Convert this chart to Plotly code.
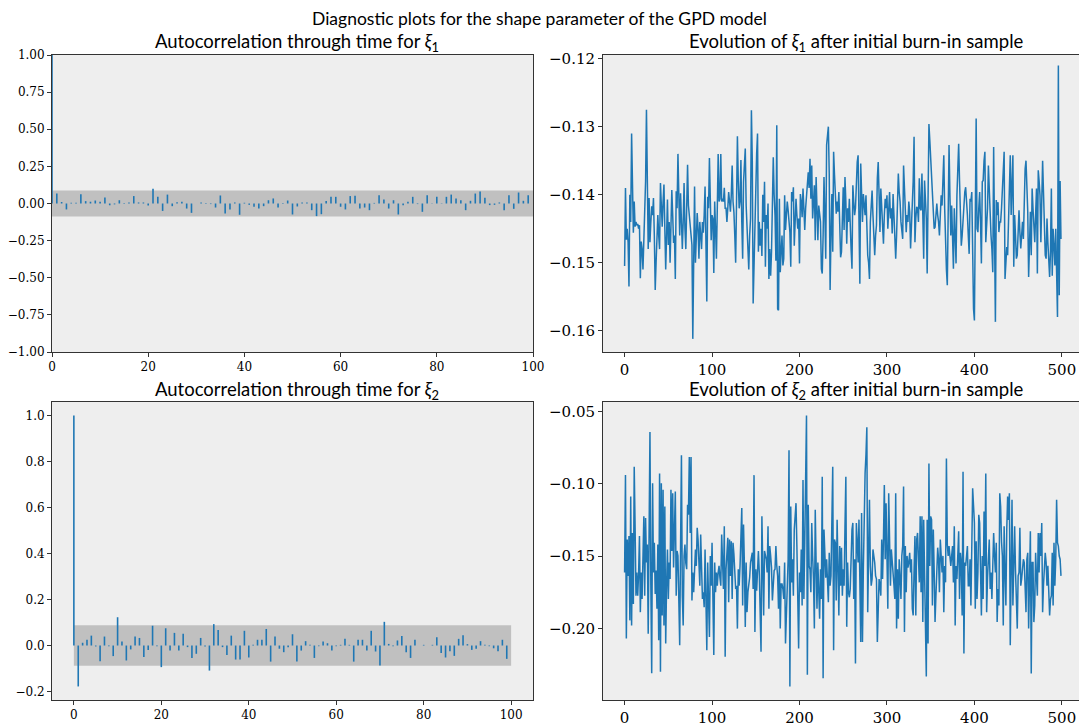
import plotly.graph_objects as go

# ---------------- data ----------------
lags1 = list(range(101))
acf1 = [1.0,
        .067, .010, -.040, .005, .005, .063, .016, .012, .020, .012,
        .040, -.012, -.006, .022, -.003, .007, .050, .007, .007, -.013,
        .100, .045, -.050, .060, -.018, .009, .012, -.034, -.063, .000,
        .007, -.004, -.004, -.027, .054, -.067, -.040, .007, -.076, .005,
        -.009, -.022, -.034, -.018, .022, .034, -.027, -.004, .020, -.074,
        -.020, .007, .007, -.045, -.085, -.072, .016, .045, .045, -.022,
        -.040, .050, .052, -.034, -.027, -.045, .004, .056, .027, -.034,
        .022, -.074, -.011, .011, .045, -.004, -.056, .056, -.002, .045,
        -.002, .045, .060, .034, .022, -.045, .018, .067, .080, .038,
        -.011, -.009, .007, -.045, .056, -.036, .074, .018, .056, .000]

lags2 = list(range(101))
acf2 = [1.0,
        -.178, .012, .025, .043, -.004, -.068, .039, -.003, -.046, .123,
        .017, -.065, -.017, .039, .033, -.050, -.019, .086, -.003, -.094,
        .075, -.022, .055, -.022, .051, -.007, -.054, -.036, .033, -.004,
        -.109, .093, .068, -.007, -.041, .043, -.061, -.061, .064, -.052,
        .003, .025, .025, .072, -.070, .039, -.014, -.029, -.007, .049,
        -.070, -.022, .019, .003, -.054, -.003, .017, .010, -.022, -.003,
        .003, .029, .003, -.070, .025, .025, -.022, .064, -.026, -.087,
        .103, .007, -.003, .022, .041, -.029, -.054, .025, .000, .003,
        .000, .003, .036, -.032, -.052, -.025, -.045, .029, .045, .006,
        -.019, -.014, .019, .003, -.003, -.012, -.025, .025, -.058, .000]

conf1 = 0.0877
conf2 = 0.0877

xi1 = [
    -.1505, -.1390, -.1466, -.1450, -.1470, -.1535, -.1400, -.1440, -.1310, -.1435,
    -.1456, -.1410, -.1447, -.1440, -.1445, -.1443, -.1450, -.1445, -.1523, -.1469,
    -.1480, -.1510, -.1470, -.1430, -.1380, -.1275, -.1410, -.1480, -.1405, -.1470,
    -.1440, -.1417, -.1430, -.1405, -.1460, -.1540, -.1500, -.1470, -.1430, -.1460,
    -.1480, -.1383, -.1430, -.1447, -.1410, -.1385, -.1450, -.1510, -.1460, -.1407,
    -.1474, -.1440, -.1500, -.1450, -.1393, -.1430, -.1471, -.1460, -.1524, -.1395,
    -.1420, -.1340, -.1437, -.1460, -.1398, -.1430, -.1480, -.1440, -.1383, -.1450,
    -.1480, -.1420, -.1356, -.1416, -.1430, -.1447, -.1450, -.1474, -.1612, -.1500,
    -.1388, -.1500, -.1460, -.1427, -.1450, -.1494, -.1440, -.1460, -.1480, -.1440,
    -.1456, -.1430, -.1388, -.1470, -.1557, -.1403, -.1420, -.1346, -.1410, -.1467,
    -.1430, -.1435, -.1515, -.1410, -.1450, -.1494, -.1420, -.1340, -.1410, -.1406,
    -.1340, -.1410, -.1406, -.1410, -.1390, -.1420, -.1420, -.1440, -.1420, -.1396,
    -.1410, -.1425, -.1400, -.1357, -.1410, -.1426, -.1460, -.1500, -.1410, -.1314,
    -.1380, -.1420, -.1410, -.1349, -.1440, -.1494, -.1381, -.1360, -.1332, -.1416,
    -.1450, -.1466, -.1510, -.1460, -.1435, -.1276, -.1349, -.1560, -.1500, -.1470,
    -.1370, -.1340, -.1310, -.1484, -.1440, -.1475, -.1450, -.1490, -.1400, -.1440,
    -.1381, -.1506, -.1430, -.1450, -.1413, -.1524, -.1480, -.1519, -.1484, -.1410,
    -.1345, -.1400, -.1430, -.1497, -.1298, -.1568, -.1570, -.1406, -.1514, -.1484,
    -.1460, -.1504, -.1494, -.1401, -.1452, -.1430, -.1410, -.1423, -.1440, -.1455,
    -.1506, -.1396, -.1410, -.1389, -.1475, -.1430, -.1406, -.1430, -.1450, -.1435,
    -.1501, -.1399, -.1410, -.1433, -.1391, -.1420, -.1452, -.1420, -.1400, -.1386,
    -.1367, -.1390, -.1347, -.1406, -.1357, -.1435, -.1410, -.1386, -.1467, -.1374,
    -.1420, -.1467, -.1416, -.1430, -.1440, -.1509, -.1516, -.1460, -.1374, -.1430,
    -.1494, -.1327, -.1305, -.1300, -.1370, -.1540, -.1457, -.1399, -.1484, -.1337,
    -.1370, -.1391, -.1428, -.1410, -.1425, -.1396, -.1440, -.1492, -.1484, -.1420,
    -.1389, -.1452, -.1374, -.1410, -.1472, -.1420, -.1440, -.1406, -.1455, -.1480,
    -.1509, -.1386, -.1410, -.1430, -.1420, -.1380, -.1352, -.1342, -.1420, -.1531,
    -.1354, -.1400, -.1440, -.1399, -.1410, -.1430, -.1401, -.1450, -.1489, -.1500,
    -.1524, -.1440, -.1420, -.1394, -.1430, -.1460, -.1489, -.1460, -.1445, -.1376,
    -.1352, -.1400, -.1455, -.1391, -.1420, -.1448, -.1472, -.1430, -.1406, -.1420,
    -.1401, -.1450, -.1410, -.1396, -.1435, -.1420, -.1457, -.1399, -.1430, -.1467,
    -.1494, -.1460, -.1410, -.1369, -.1396, -.1410, -.1440, -.1450, -.1465, -.1357,
    -.1390, -.1416, -.1455, -.1430, -.1440, -.1410, -.1425, -.1479, -.1450, -.1425,
    -.1380, -.1315, -.1470, -.1435, -.1418, -.1420, -.1440, -.1376, -.1420, -.1423,
    -.1369, -.1430, -.1494, -.1379, -.1410, -.1435, -.1516, -.1400, -.1296, -.1320,
    -.1347, -.1380, -.1401, -.1445, -.1450, -.1448, -.1430, -.1413, -.1430, -.1440,
    -.1460, -.1420, -.1401, -.1416, -.1380, -.1342, -.1420, -.1489, -.1510, -.1533,
    -.1420, -.1327, -.1400, -.1460, -.1416, -.1450, -.1509, -.1420, -.1460, -.1501,
    -.1401, -.1370, -.1325, -.1380, -.1423, -.1475, -.1460, -.1440, -.1410, -.1396,
    -.1389, -.1406, -.1430, -.1460, -.1487, -.1406, -.1410, -.1396, -.1499, -.1568,
    -.1585, -.1400, -.1288, -.1450, -.1455, -.1420, -.1396, -.1440, -.1501, -.1381,
    -.1379, -.1350, -.1337, -.1470, -.1440, -.1420, -.1357, -.1400, -.1435, -.1460,
    -.1480, -.1514, -.1330, -.1475, -.1587, -.1408, -.1430, -.1411, -.1455, -.1440,
    -.1440, -.1420, -.1390, -.1362, -.1337, -.1524, -.1490, -.1477, -.1489, -.1440,
    -.1396, -.1342, -.1430, -.1380, -.1342, -.1506, -.1430, -.1460, -.1494, -.1489,
    -.1440, -.1423, -.1455, -.1479, -.1460, -.1440, -.1465, -.1400, -.1362, -.1350,
    -.1380, -.1425, -.1521, -.1460, -.1425, -.1489, -.1391, -.1420, -.1450, -.1470,
    -.1430, -.1391, -.1516, -.1364, -.1380, -.1401, -.1470, -.1410, -.1350, -.1396,
    -.1440, -.1489, -.1494, -.1435, -.1470, -.1509, -.1521, -.1484, -.1391, -.1519,
    -.1450, -.1475, -.1504, -.1450, -.1500, -.1580, -.1210, -.1548, -.1380, -.1465]

xi2 = [
    -.1614, -.0939, -.2070, -.1385, -.1637, -.1362, -.1945, -.1088, -.1980, -.1340,
    -.1831, -.0882, -.1294, -.1774, -.1614, -.1774, -.1625, -.1362, -.1888, -.1614,
    -.1797, -.1500, -.1225, -.1774, -.1237, -.1545, -.1420, -.2037, -.1545, -.0642,
    -.1700, -.2311, -.0996, -.1614, -.1408, -.1762, -.1600, -.1865, -.1420, -.2082,
    -.0928, -.2300, -.0996, -.1911, -.1042, -.1980, -.1157, -.2105, -.1700, -.1454,
    -.1797, -.1545, -.1659, -.1042, -.1465, -.1065, -.1579, -.1300, -.1054, -.1774,
    -.1465, -.1499, -.1800, -.2117, -.1431, -.0802, -.1774, -.1980, -.1499, -.1420,
    -.1550, -.1591, -.1145, -.1214, -.0814, -.1340, -.0814, -.1808, -.1614, -.1751,
    -.1600, -.1454, -.1568, -.1305, -.1385, -.1500, -.1705, -.1351, -.1682, -.1797,
    -.1751, -.1854, -.1454, -.1800, -.2151, -.1545, -.1797, -.2060, -.1499, -.1705,
    -.1408, -.1850, -.2185, -.1545, -.1751, -.1614, -.1705, -.1614, -.1568, -.1650,
    -.1705, -.1351, -.1648, -.1728, -.1294, -.2197, -.1591, -.1500, -.1374, -.1820,
    -.1385, -.1637, -.1397, -.1797, -.1408, -.1488, -.1600, -.1728, -.1705, -.2002,
    -.1591, -.1705, -.1568, -.1400, -.1168, -.1842, -.1282, -.1568, -.1990, -.1545,
    -.1888, -.1750, -.1705, -.1648, -.1545, -.1499, -.1477, -.1728, -.0940, -.2025,
    -.1591, -.1739, -.1600, -.1465, -.1614, -.1911, -.2162, -.1225, -.1614, -.1911,
    -.1465, -.1500, -.1522, -.1614, -.1294, -.1865, -.1431, -.1499, -.1579, -.1808,
    -.1637, -.1600, -.1591, -.1431, -.1568, -.1637, -.1865, -.1568, -.2002, -.1694,
    -.1694, -.1728, -.1797, -.1545, -.2105, -.1900, -.1751, -.1522, -.0768, -.2402,
    -.1157, -.1682, -.1522, -.1774, -.1317, -.1202, -.1134, -.1431, -.1800, -.2140,
    -.1614, -.1751, -.1454, -.1842, -.0974, -.1797, -.1408, -.1019, -.0528, -.2322,
    -.1145, -.1568, -.1591, -.1751, -.1271, -.1500, -.1659, -.2002, -.1179, -.1545,
    -.1865, -.1545, -.1700, -.1934, -.1591, -.1797, -.0951, -.2345, -.1317, -.1591,
    -.1650, -.1522, -.1705, -.1820, -.1477, -.1705, -.1637, -.1300, -.0882, -.2151,
    -.1385, -.1408, -.1808, -.1248, -.1600, -.1911, -.1431, -.1705, -.1442, -.1774,
    -.1591, -.1705, -.1300, -.0951, -.1990, -.1545, -.1751, -.1785, -.1728, -.1500,
    -.1317, -.1271, -.1797, -.1522, -.2243, -.1271, -.1454, -.1545, -.1248, -.1700,
    -.2094, -.1202, -.2094, -.1591, -.1065, -.0928, -.0800, -.0608, -.1888, -.1454,
    -.1111, -.1568, -.1705, -.1659, -.1454, -.1500, -.1545, -.1637, -.1659, -.2094,
    -.1797, -.1659, -.1700, -.1774, -.1385, -.1659, -.1385, -.1008, -.1522, -.1134,
    -.1500, -.1865, -.1065, -.1499, -.1705, -.1454, -.1568, -.1614, -.1700, -.1797,
    -.1065, -.2002, -.1591, -.1934, -.1522, -.1650, -.1797, -.1499, -.1431, -.1019,
    -.2025, -.1431, -.1751, -.1499, -.1580, -.1545, -.1477, -.1614, -.1522, -.1865,
    -.1911, -.1600, -.1362, -.1911, -.1385, -.1340, -.1500, -.1682, -.1225, -.1751,
    -.1225, -.1957, -.1248, -.1705, -.2000, -.2334, -.1248, -.2105, -.0860, -.1568,
    -.1225, -.1248, -.1842, -.1317, -.1600, -.1957, -.1774, -.1568, -.1442, -.1522,
    -.1751, -.1385, -.1500, -.1614, -.1499, -.1888, -.1568, -.1682, -.0825, -.1420,
    -.1499, -.1431, -.1500, -.1568, -.1499, -.1431, -.1682, -.1294, -.1980, -.1568,
    -.1659, -.1500, -.1328, -.1797, -.1477, -.1545, -.1911, -.0916, -.2174, -.1545,
    -.1568, -.1500, -.1431, -.1705, -.1705, -.1522, -.1842, -.1442, -.1031, -.1150,
    -.1271, -.1865, -.1397, -.1797, -.1614, -.1214, -.1271, -.1600, -.1911, -.1499,
    -.1797, -.1191, -.1568, -.0928, -.1888, -.1650, -.1477, -.1385, -.1728, -.1614,
    -.1797, -.1637, -.1340, -.1500, -.1614, -.1408, -.1957, -.1728, -.1842, -.1065,
    -.1157, -.1400, -.1499, -.1980, -.1294, -.1614, -.1842, -.1317, -.1088, -.1250,
    -.1065, -.2117, -.1317, -.1111, -.1842, -.1477, -.1294, -.1600, -.1797, -.2002,
    -.1637, -.1614, -.1305, -.1705, -.1659, -.1600, -.1522, -.1545, -.1820, -.1888,
    -.1522, -.1477, -.2002, -.1700, -.1328, -.2313, -.1545, -.1545, -.1957, -.1842,
    -.1477, -.1650, -.1774, -.1340, -.1614, -.1340, -.1499, -.1271, -.1888, -.1700,
    -.1568, -.1477, -.1545, -.1705, -.1568, -.1705, -.1911, -.1800, -.1774, -.1477,
    -.1842, -.1408, -.1705, -.1522, -.1111, -.1408, -.1431, -.1500, -.1522, -.1637]

iters1 = list(range(len(xi1)))
iters2 = list(range(len(xi2)))

BLUE = "#1f77b4"
BG = "#eeeeee"
BAND = "#c0c0c0"
TITLE_FONT = "Lato"
TICK_FONT = "DejaVu Serif"


def stems(lags, vals):
    xs, ys = [], []
    for k, v in zip(lags, vals):
        xs += [k, k, None]
        ys += [0, v, None]
    return xs, ys


fig = go.Figure()

# --- top-left ACF xi1
fig.add_trace(go.Scatter(x=lags1, y=[-conf1] * len(lags1), mode="lines",
                         line=dict(width=0, color=BAND), hoverinfo="skip",
                         showlegend=False, xaxis="x", yaxis="y"))
fig.add_trace(go.Scatter(x=lags1, y=[conf1] * len(lags1), mode="lines",
                         line=dict(width=0, color=BAND), fill="tonexty",
                         fillcolor=BAND, hoverinfo="skip",
                         showlegend=False, xaxis="x", yaxis="y"))
sx, sy = stems(lags1, acf1)
fig.add_trace(go.Scatter(x=sx, y=sy, mode="lines", line=dict(color=BLUE, width=1.6),
                         showlegend=False, xaxis="x", yaxis="y"))

# --- top-right trace xi1
fig.add_trace(go.Scatter(x=iters1, y=xi1, mode="lines", line=dict(color=BLUE, width=1.5),
                         showlegend=False, xaxis="x2", yaxis="y2"))

# --- bottom-left ACF xi2
fig.add_trace(go.Scatter(x=lags2, y=[-conf2] * len(lags2), mode="lines",
                         line=dict(width=0, color=BAND), hoverinfo="skip",
                         showlegend=False, xaxis="x3", yaxis="y3"))
fig.add_trace(go.Scatter(x=lags2, y=[conf2] * len(lags2), mode="lines",
                         line=dict(width=0, color=BAND), fill="tonexty",
                         fillcolor=BAND, hoverinfo="skip",
                         showlegend=False, xaxis="x3", yaxis="y3"))
sx2, sy2 = stems(lags2, acf2)
fig.add_trace(go.Scatter(x=sx2, y=sy2, mode="lines", line=dict(color=BLUE, width=1.6),
                         showlegend=False, xaxis="x3", yaxis="y3"))

# --- bottom-right trace xi2
fig.add_trace(go.Scatter(x=iters2, y=xi2, mode="lines", line=dict(color=BLUE, width=1.5),
                         showlegend=False, xaxis="x4", yaxis="y4"))

W, H = 1079, 726
L_DOM = [52 / W, 533 / W]
R_DOM = [603 / W, 1.0]
T_DOM = [1 - 352 / H, 1 - 55 / H]
B_DOM = [1 - 700 / H, 1 - 402 / H]


def ax(domain, rng, anchor, dtick, fmt, size, mirror=True, tick0=None):
    d = dict(domain=domain, range=rng, anchor=anchor, showgrid=False, zeroline=False,
             automargin=False,
             showline=True, linecolor="#333333", linewidth=1, mirror=mirror,
             ticks="outside", ticklen=4, tickwidth=1, tickcolor="#333333",
             dtick=dtick, tickformat=fmt,
             tickfont=dict(family=TICK_FONT, size=size, color="#000000"))
    if tick0 is not None:
        d["tick0"] = tick0
    return d


fig.update_layout(
    width=W, height=H,
    autosize=False,
    margin=dict(l=0, r=0, t=0, b=0, pad=0, autoexpand=False),
    paper_bgcolor="white",
    plot_bgcolor=BG,
    showlegend=False,
    xaxis=ax(L_DOM, [0, 100], "y", 20, "d", 12),
    yaxis=ax(T_DOM, [-1, 1], "x", 0.25, ".2f", 12),
    xaxis2=ax(R_DOM, [-24.7, 519.6], "y2", 100, "d", 15, mirror=True),
    yaxis2=ax(T_DOM, [-0.16313, -0.11946], "x2", 0.01, ".2f", 15, mirror=False),
    xaxis3=ax(L_DOM, [-5, 105], "y3", 20, "d", 12),
    yaxis3=ax(B_DOM, [-0.2369, 1.0589], "x3", 0.2, ".1f", 12, tick0=0),
    xaxis4=ax(R_DOM, [-24.7, 519.6], "y4", 100, "d", 15, mirror=True),
    yaxis4=ax(B_DOM, [-0.2496, -0.0434], "x4", 0.05, ".2f", 15, mirror=False, tick0=0),
)

annots = [
    ("Diagnostic plots for the shape parameter of the GPD model", 0.5, 1 - 18 / H, 17.5),
    ("Autocorrelation through time for <i>ξ</i><sub>1</sub>", 297 / W, 1 - 42 / H, 18.5),
    ("Evolution of <i>ξ</i><sub>1</sub> after initial burn-in sample", 856 / W, 1 - 42 / H, 18.5),
    ("Autocorrelation through time for <i>ξ</i><sub>2</sub>", 297 / W, 1 - 390 / H, 18.5),
    ("Evolution of <i>ξ</i><sub>2</sub> after initial burn-in sample", 856 / W, 1 - 390 / H, 18.5),
]
for text, x, y, size in annots:
    fig.add_annotation(text=text, x=x, y=y, xref="paper", yref="paper",
                       xanchor="center", yanchor="middle", showarrow=False,
                       font=dict(family=TITLE_FONT, size=size, color="#000000"))

fig.write_html("out.html")
